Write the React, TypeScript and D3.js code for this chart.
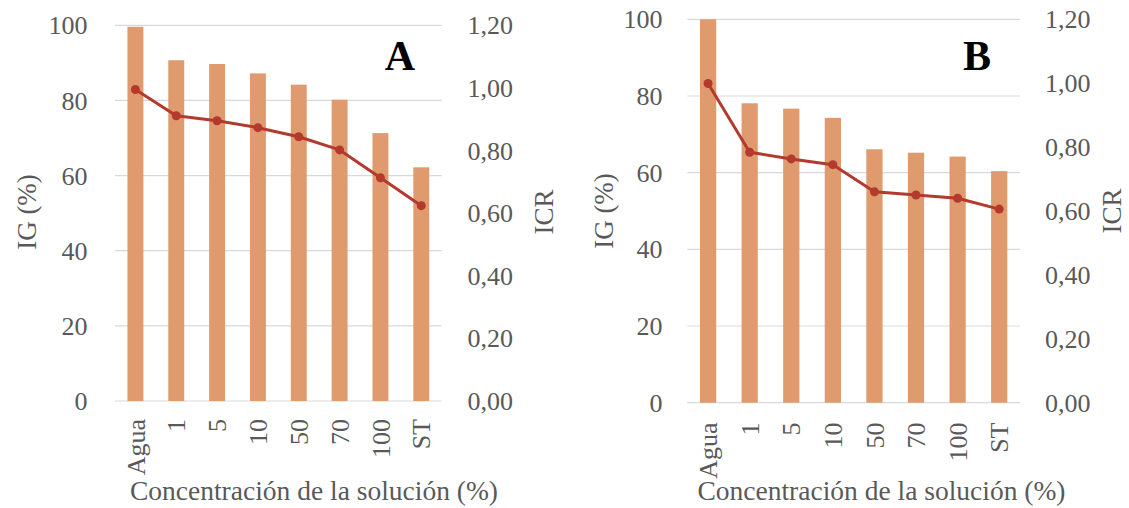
import React from "react";
import * as d3 from "d3";

const categories = ["Agua", "1", "5", "10", "50", "70", "100", "ST"];
const igA = [99.6, 90.7, 89.7, 87.2, 84.2, 80.2, 71.3, 62.2];
const icrA = [0.995, 0.911, 0.895, 0.873, 0.844, 0.802, 0.713, 0.624];
const igB = [100, 78.1, 76.7, 74.3, 66.1, 65.2, 64.2, 60.4];
const icrB = [0.999, 0.784, 0.763, 0.745, 0.66, 0.65, 0.64, 0.606];
const leftTicks = [0, 20, 40, 60, 80, 100];
const rightTicks = [0, 0.2, 0.4, 0.6, 0.8, 1.0, 1.2];
const xTitle = "Concentración de la solución (%)";
const leftTitle = "IG (%)";
const rightTitle = "ICR";

const FONT = "'Liberation Serif', 'Times New Roman', serif";
const GRAY = "#595959";
const BAR = "#DF9A6E";
const LINE = "#B33A2C";
const GRID = "#D9D9D9";

type PanelProps = {
  x0: number; x1: number; yTop: number; yBot: number;
  ig: number[]; icr: number[]; letter: string;
  letterX: number; letterAnchor: "start" | "end";
  leftLabelX: number; rightLabelX: number;
  leftTitleX: number; rightTitleX: number; titleY: number;
  xTitleX: number; xLabelTop: number;
};

function Panel(p: PanelProps) {
  const x = d3.scaleBand<string>().domain(categories).range([p.x0, p.x1]).paddingInner(0.61).paddingOuter(0.305);
  const yL = d3.scaleLinear().domain([0, 100]).range([p.yBot, p.yTop]);
  const yR = d3.scaleLinear().domain([0, 1.2]).range([p.yBot, p.yTop]);
  const fmt = (v: number) => d3.format(".2f")(v).replace(".", ",");
  const line = d3.line<number>()
    .x((_, i) => (x(categories[i]) as number) + x.bandwidth() / 2)
    .y((d) => yR(d))
    .curve(d3.curveLinear);
  return (
    <g>
      {leftTicks.map((t) => (
        <line key={"g" + t} x1={p.x0} x2={p.x1} y1={yL(t)} y2={yL(t)} stroke={GRID} strokeWidth={1.2} />
      ))}
      {categories.map((c, i) => (
        <rect key={c} x={x(c)} y={yL(p.ig[i])} width={x.bandwidth()} height={p.yBot - yL(p.ig[i])} fill={BAR} />
      ))}
      <path d={line(p.icr) || ""} fill="none" stroke={LINE} strokeWidth={3} strokeLinejoin="round" />
      {p.icr.map((v, i) => (
        <circle key={i} cx={(x(categories[i]) as number) + x.bandwidth() / 2} cy={yR(v)} r={4.5} fill={LINE} />
      ))}
      {leftTicks.map((t) => (
        <text key={"l" + t} x={p.leftLabelX} y={yL(t)} dy="0.35em" textAnchor="end" fontFamily={FONT} fontSize={26} fill={GRAY}>{t}</text>
      ))}
      {rightTicks.map((t) => (
        <text key={"r" + t} x={p.rightLabelX} y={yR(t)} dy="0.35em" textAnchor="start" fontFamily={FONT} fontSize={26} fill={GRAY}>{fmt(t)}</text>
      ))}
      {categories.map((c) => {
        const cx = (x(c) as number) + x.bandwidth() / 2;
        return (
          <text key={"x" + c} transform={`translate(${cx},${p.xLabelTop}) rotate(-90)`} dy="0.35em" textAnchor="end" fontFamily={FONT} fontSize={26} fill={GRAY}>{c}</text>
        );
      })}
      <text transform={`translate(${p.leftTitleX},${p.titleY}) rotate(-90)`} dy="0.35em" textAnchor="middle" fontFamily={FONT} fontSize={27} fill={GRAY}>{leftTitle}</text>
      <text transform={`translate(${p.rightTitleX},${p.titleY}) rotate(-90)`} dy="0.35em" textAnchor="middle" fontFamily={FONT} fontSize={27} fill={GRAY}>{rightTitle}</text>
      <text x={p.xTitleX} y={500} textAnchor="middle" fontFamily={FONT} fontSize={27.5} fill={GRAY}>{xTitle}</text>
      <text x={p.letterX} y={70} textAnchor={p.letterAnchor} fontFamily={FONT} fontWeight="bold" fontSize={42} fill="#000">{p.letter}</text>
    </g>
  );
}

export default function App() {
  return (
    <svg width={1129} height={508} style={{ position: "absolute", left: 0, top: 0, background: "#fff" }}>
      <rect width={1129} height={508} fill="#fff" />
      <Panel x0={115} x1={441.7} yTop={25.3} yBot={401} ig={igA} icr={icrA} letter="A"
        letterX={415} letterAnchor="end" leftLabelX={87.5} rightLabelX={467.5}
        leftTitleX={27} rightTitleX={544} titleY={212} xTitleX={314} xLabelTop={419} />
      <Panel x0={687.3} x1={1020} yTop={19.3} yBot={402.7} ig={igB} icr={icrB} letter="B"
        letterX={963} letterAnchor="start" leftLabelX={662.5} rightLabelX={1045}
        leftTitleX={604} rightTitleX={1112} titleY={211} xTitleX={881.5} xLabelTop={422.5} />
    </svg>
  );
}
